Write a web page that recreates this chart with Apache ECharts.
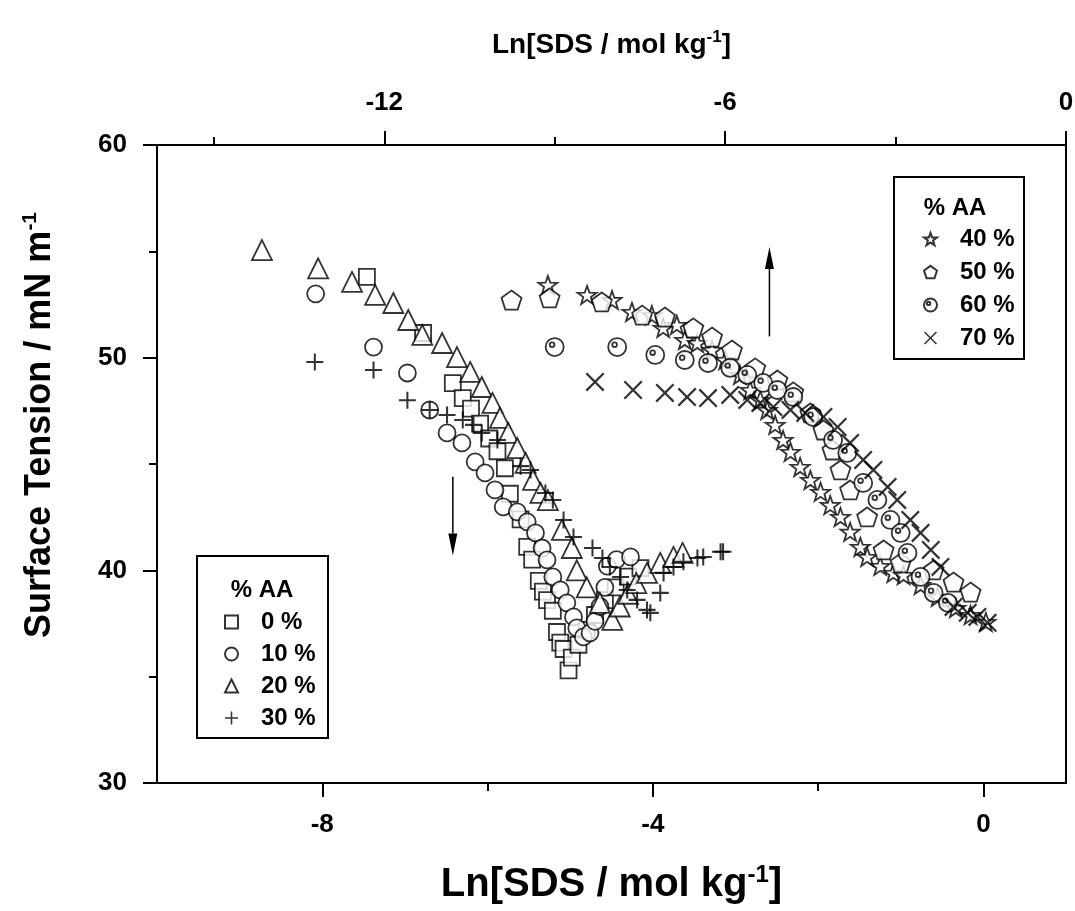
<!DOCTYPE html>
<html>
<head>
<meta charset="utf-8">
<title>Surface tension vs Ln[SDS]</title>
<script src="https://cdn.jsdelivr.net/npm/echarts@6/dist/echarts.min.js"></script>
<style>
  html, body { margin: 0; padding: 0; background: #fff; }
  #main { width: 1075px; height: 911px; }
</style>
</head>
<body>
<div id="main"></div>
<script>
// low % AA runs, read against the bottom Ln axis
var aa0 = [[-7.46,53.8],[-6.78,51.16],[-6.42,48.8],[-6.3,48.1],[-6.2,47.6],[-6.09,46.9],[-5.98,46.2],[-5.88,45.6],[-5.79,44.8],[-5.73,43.6],[-5.6,42.4],[-5.52,41.1],[-5.46,40.5],[-5.38,39.5],[-5.33,39.0],[-5.28,38.6],[-5.21,38.1],[-5.16,37.1],[-5.12,36.6],[-5.08,36.3],[-5.02,35.3],[-4.98,35.9],[-4.9,36.5],[-4.8,37.2],[-4.7,37.9],[-4.58,38.6],[-4.45,39.2],[-4.3,39.7],[-4.15,40.1]];
var aa10 = [[-8.08,53.0],[-7.38,50.5],[-6.97,49.28],[-6.7,47.54],[-6.49,46.46],[-6.31,45.99],[-6.15,45.1],[-6.03,44.58],[-5.91,43.78],[-5.81,42.98],[-5.64,42.75],[-5.52,42.28],[-5.42,41.76],[-5.34,41.05],[-5.28,40.49],[-5.21,39.69],[-5.12,39.08],[-5.04,38.47],[-4.96,37.81],[-4.92,37.29],[-4.84,36.87],[-4.76,37.06],[-4.7,37.6],[-4.64,38.3],[-4.58,39.2],[-4.55,40.2],[-4.44,40.5],[-4.27,40.63]];
var aa20 = [[-8.73,55.06],[-8.05,54.2],[-7.64,53.56],[-7.36,52.95],[-7.14,52.57],[-6.96,51.77],[-6.79,51.07],[-6.55,50.69],[-6.37,50.03],[-6.21,49.33],[-6.07,48.62],[-5.94,47.87],[-5.85,47.17],[-5.75,46.46],[-5.64,45.75],[-5.54,45.05],[-5.45,44.25],[-5.36,43.64],[-5.27,43.3],[-5.1,41.9],[-4.98,41.05],[-4.92,40.0],[-4.8,39.2],[-4.64,38.47],[-4.49,37.67],[-4.4,38.3],[-4.3,38.9],[-4.2,39.4],[-4.07,39.88],[-3.91,40.35],[-3.75,40.63],[-3.64,40.82]];
var aa30 = [[-8.09,49.8],[-7.38,49.42],[-6.97,48.0],[-6.7,47.54],[-6.49,47.3],[-6.3,47.07],[-6.17,46.84],[-6.07,46.46],[-5.88,46.13],[-5.6,44.9],[-5.48,44.72],[-5.3,43.64],[-5.21,43.31],[-5.08,42.37],[-4.96,41.57],[-4.73,41.05],[-4.61,40.58],[-4.52,40.16],[-4.39,39.69],[-4.31,39.08],[-4.19,38.61],[-4.07,38.14],[-4.03,38.0],[-3.91,38.94],[-3.87,39.88],[-3.75,40.16],[-3.63,40.4],[-3.46,40.58],[-3.39,40.63],[-3.18,40.87],[-3.15,40.87]];

// high % AA runs, read against the top Ln axis
var aa40 = [[-9.12,53.42],[-8.43,52.95],[-7.99,52.71],[-7.64,52.15],[-7.29,52.0],[-7.09,51.4],[-6.85,51.54],[-6.71,50.83],[-6.49,50.69],[-6.23,50.36],[-6.0,49.89],[-5.74,49.19],[-5.56,48.48],[-5.38,48.01],[-5.26,47.54],[-5.12,46.84],[-4.98,46.13],[-4.85,45.57],[-4.68,44.86],[-4.5,44.25],[-4.32,43.69],[-4.15,43.07],[-3.97,42.51],[-3.8,41.81],[-3.62,41.1],[-3.5,40.63],[-3.27,40.21],[-3.04,39.88],[-2.86,39.78],[-2.56,39.31],[-2.26,38.75],[-1.94,38.23],[-1.68,37.9],[-1.41,37.57]];
var aa50 = [[-9.76,52.71],[-9.09,52.81],[-8.17,52.62],[-7.46,52.0],[-7.06,51.91],[-6.56,51.4],[-6.23,50.97],[-5.88,50.36],[-5.47,49.52],[-5.08,48.95],[-4.8,48.39],[-4.5,47.4],[-4.27,46.6],[-4.11,45.66],[-3.97,44.72],[-3.8,43.78],[-3.5,42.51],[-3.21,40.96],[-2.91,40.35],[-2.33,40.02],[-1.98,39.45],[-1.68,38.98]];
var aa60 = [[-9.0,50.5],[-7.9,50.5],[-7.23,50.13],[-6.71,49.89],[-6.3,49.75],[-5.91,49.52],[-5.61,49.19],[-5.33,48.81],[-5.08,48.48],[-4.8,48.15],[-4.45,47.21],[-4.1,46.13],[-3.85,45.52],[-3.57,44.11],[-3.32,43.31],[-3.09,42.37],[-2.91,41.76],[-2.79,40.82],[-2.56,39.69],[-2.33,38.94],[-2.08,38.47]];
var aa70 = [[-8.29,48.86],[-7.62,48.48],[-7.06,48.34],[-6.67,48.15],[-6.3,48.1],[-5.91,48.25],[-5.61,48.01],[-5.38,47.87],[-5.15,47.68],[-4.85,47.54],[-4.59,47.4],[-4.27,47.21],[-4.02,46.74],[-3.8,45.99],[-3.57,45.19],[-3.39,44.72],[-3.14,43.92],[-2.97,43.31],[-2.74,42.37],[-2.56,41.76],[-2.38,40.96],[-2.21,40.16],[-1.98,38.28],[-1.73,38.0],[-1.56,37.81],[-1.38,37.53]];

var lowNames = ['0 %', '10 %', '20 %', '30 %'];
var highNames = ['40 %', '50 %', '60 %', '70 %'];

var bottomTicks = [-8, -4, 0];
var bottomMinor = [-6, -2];
var topTicks = [-12, -6, 0];
var topMinor = [-15, -9, -3];

// arrows: [axis, x, yFrom, yTo]
var arrows = [
    ['bottom', -6.42, 44.4, 40.7],
    ['top', -5.22, 51.0, 55.2]
];

var FONT = '"Liberation Sans", Arial, Helvetica, sans-serif';
var myChart = echarts.init(document.getElementById('main'));

var PLUS = 'path://M8.8,0h2.4v8.8h8.8v2.4h-8.8v8.8h-2.4v-8.8h-8.8v-2.4h8.8z';
var CROSS = 'path://M1.7,0L10,8.3L18.3,0L20,1.7L11.7,10L20,18.3L18.3,20L10,11.7L1.7,20L0,18.3L8.3,10L0,1.7Z';
var STAR = 'path://M10,0L12.35,6.76L19.51,6.91L13.8,11.24L15.88,18.09L10,14L4.12,18.09L6.2,11.24L0.49,6.91L7.65,6.76Z';
var PENTA = 'path://M10,0L19.51,6.91L15.88,18.09L4.12,18.09L0.49,6.91Z';
var DOTC = 'path://M0,10A10,10,0,1,1,20,10A10,10,0,1,1,0,10Z M4.5,7.5A2.6,2.6,0,1,1,9.7,7.5A2.6,2.6,0,1,1,4.5,7.5Z';

var openStyle = {color: '#fff', borderColor: '#000', borderWidth: 1.8};
var solidStyle = {color: '#000', borderWidth: 0};

function mk(name, data, axis, symbol, size, style) {
    return {
        name: name, type: 'scatter', data: data,
        xAxisIndex: axis, yAxisIndex: 0,
        symbol: symbol, symbolSize: size, symbolKeepAspect: true,
        itemStyle: style, silent: true
    };
}

function tickAxis(pos, min, max, ticks, len, labels, name, nameGap, nameSize) {
    return {
        type: 'value', position: pos, min: min, max: max, gridIndex: 0,
        name: name || '', nameLocation: 'middle', nameGap: nameGap || 0,
        nameTextStyle: {
            rich: {
                a: {fontSize: nameSize, fontWeight: 'bold', fontFamily: FONT, color: '#000', lineHeight: nameSize + 4},
                s: {fontSize: Math.round(nameSize * 0.6), fontWeight: 'bold', fontFamily: FONT, color: '#000', verticalAlign: 'top', lineHeight: Math.round(nameSize * 0.6)}
            }
        },
        axisLine: {show: !!labels, onZero: false, lineStyle: {color: '#000', width: 2}},
        axisTick: {show: true, customValues: ticks, length: len, lineStyle: {color: '#000', width: 2}},
        axisLabel: labels ? {customValues: ticks, color: '#000', fontSize: 26, fontWeight: 'bold', fontFamily: FONT, margin: 29} : {show: false},
        splitLine: {show: false}
    };
}

var title = '{a|Ln[SDS / mol kg}{s|-1}{a|]}';

var option = {
    animation: false,
    backgroundColor: '#fff',
    grid: {left: 157, right: 9, top: 145, bottom: 128, show: true, borderColor: '#000', borderWidth: 2, outerBoundsMode: 'none'},
    xAxis: [
        tickAxis('bottom', -10, 1, bottomTicks, 14, true, title, 80, 40),
        tickAxis('bottom', -10, 1, bottomMinor, 8, false),
        tickAxis('top', -16, 0, topTicks, 14, true, title, 84, 28),
        tickAxis('top', -16, 0, topMinor, 8, false)
    ],
    yAxis: [{
        type: 'value', min: 30, max: 60, interval: 10,
        axisLine: {show: true, onZero: false, lineStyle: {color: '#000', width: 2}},
        axisTick: {length: 14, lineStyle: {color: '#000', width: 2}},
        minorTick: {show: true, splitNumber: 2, length: 8, lineStyle: {color: '#000', width: 2}},
        axisLabel: {color: '#000', fontSize: 26, fontWeight: 'bold', fontFamily: FONT, margin: 30},
        splitLine: {show: false}
    }],
    legend: [{
        data: lowNames, orient: 'vertical', left: 224, top: 610,
        itemWidth: 13, itemHeight: 13, itemGap: 8, padding: 0,
        textStyle: {fontSize: 24, fontWeight: 'bold', fontFamily: FONT, color: '#000', lineHeight: 24, padding: [0, 0, 0, 18]},
        selectedMode: false
    }, {
        data: highNames, orient: 'vertical', left: 923, top: 227,
        itemWidth: 13, itemHeight: 13, itemGap: 9, padding: 0,
        textStyle: {fontSize: 24, fontWeight: 'bold', fontFamily: FONT, color: '#000', lineHeight: 24, padding: [0, 0, 0, 18]},
        selectedMode: false
    }],
    series: [
        mk(lowNames[0], aa0, 0, 'rect', 16, openStyle),
        mk(lowNames[1], aa10, 0, 'circle', 17, openStyle),
        mk(lowNames[2], aa20, 0, 'triangle', 20, openStyle),
        mk(lowNames[3], aa30, 0, PLUS, 17, solidStyle),
        mk(highNames[0], aa40, 2, STAR, 19, openStyle),
        mk(highNames[1], aa50, 2, PENTA, 20, openStyle),
        mk(highNames[2], aa60, 2, DOTC, 18, openStyle),
        mk(highNames[3], aa70, 2, CROSS, 19, solidStyle)
    ]
};

myChart.setOption(option);

// legend frames, their headings, the y title and the two arrows
var g = [
    {type: 'rect', shape: {x: 197, y: 556, width: 131, height: 182}, style: {fill: 'none', stroke: '#000', lineWidth: 2}},
    {type: 'rect', shape: {x: 894, y: 177, width: 130, height: 182}, style: {fill: 'none', stroke: '#000', lineWidth: 2}},
    {type: 'text', x: 262, y: 590, style: {text: '% AA', font: 'bold 24px ' + FONT, fill: '#000', align: 'center', verticalAlign: 'middle'}},
    {type: 'text', x: 955, y: 208, style: {text: '% AA', font: 'bold 24px ' + FONT, fill: '#000', align: 'center', verticalAlign: 'middle'}},
    {type: 'text', x: 40, y: 425, rotation: Math.PI / 2, style: {
        text: '{a|Surface Tension / mN m}{s|-1}',
        align: 'center', verticalAlign: 'middle',
        rich: {
            a: {fontSize: 36, fontWeight: 'bold', fontFamily: FONT, fill: '#000', lineHeight: 40},
            s: {fontSize: 21, fontWeight: 'bold', fontFamily: FONT, fill: '#000', lineHeight: 21, verticalAlign: 'top'}
        }
    }}
];
arrows.forEach(function (a) {
    var idx = a[0] === 'bottom' ? 0 : 2;
    var p1 = myChart.convertToPixel({xAxisIndex: idx, yAxisIndex: 0}, [a[1], a[2]]);
    var p2 = myChart.convertToPixel({xAxisIndex: idx, yAxisIndex: 0}, [a[1], a[3]]);
    var dir = p2[1] > p1[1] ? 1 : -1;
    var head = 22, half = 4.5;
    g.push({type: 'line', shape: {x1: p1[0], y1: p1[1], x2: p2[0], y2: p2[1] - dir * head}, style: {stroke: '#000', lineWidth: 1.5}});
    g.push({type: 'polygon', shape: {points: [[p2[0], p2[1]], [p2[0] - half, p2[1] - dir * head], [p2[0] + half, p2[1] - dir * head]]}, style: {fill: '#000'}});
});
myChart.setOption({graphic: g});
</script>
</body>
</html>
